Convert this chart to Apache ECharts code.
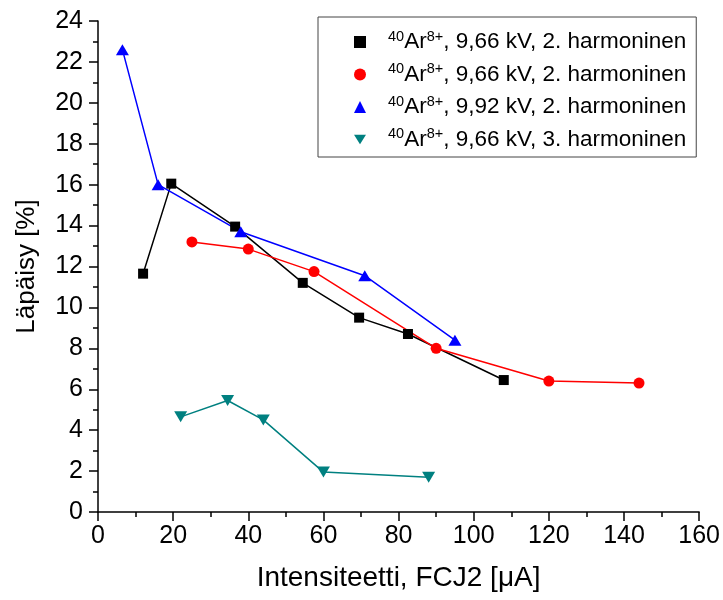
<!DOCTYPE html>
<html style="height: 100%">

<head>
    <meta charset="utf-8">
</head>

<body style="height: 100%; margin: 0; background: #fff">
    <div id="container" style="width: 723px; height: 600px"></div>
    <script type="text/javascript" src="https://cdn.jsdelivr.net/npm/echarts@6/dist/echarts.min.js"></script>
    <script type="text/javascript">
        // mittaukset: intensiteetti (uA) ja läpäisy (%)
        var blackX = [12, 19.5, 36.5, 54.5, 69.5, 82.5, 108];
        var blackY = [11.65, 16.05, 13.95, 11.2, 9.5, 8.7, 6.45];
        var redX = [25, 40, 57.5, 90, 120, 144];
        var redY = [13.2, 12.85, 11.75, 8.0, 6.4, 6.3];
        var blueX = [6.5, 16, 38, 71, 95];
        var blueY = [22.6, 16.0, 13.7, 11.55, 8.4];
        var tealX = [22, 34.5, 44, 60, 88];
        var tealY = [4.65, 5.45, 4.5, 1.95, 1.7];

        var legendTexts = {
            s1: ', 9,66 kV, 2. harmoninen',
            s2: ', 9,66 kV, 2. harmoninen',
            s3: ', 9,92 kV, 2. harmoninen',
            s4: ', 9,66 kV, 3. harmoninen'
        };

        function pairs(xs, ys) {
            return xs.map(function (x, i) { return [x, ys[i]]; });
        }

        var fontFam = '"Liberation Sans", Arial, sans-serif';

        var dom = document.getElementById("container");
        var myChart = echarts.init(dom);

        var option = {
            backgroundColor: '#fff',
            animation: false,
            textStyle: { fontFamily: fontFam, color: '#000' },
            grid: { left: 98, right: 22, top: 21, bottom: 88 },
            legend: {
                orient: 'vertical',
                left: 318,
                top: 17,
                padding: [12, 10, 6, 36],
                itemGap: 8,
                itemWidth: 12,
                itemHeight: 12,
                borderColor: '#444',
                borderWidth: 1,
                data: [
                    { name: 's1', icon: 'rect' },
                    { name: 's2', icon: 'circle' },
                    { name: 's3', icon: 'triangle' },
                    { name: 's4', icon: 'path://M0,0L2,0L1,1.6Z' }
                ],
                formatter: function (name) {
                    return '{sup|40}{main|Ar}{sup|8+}{main|' + legendTexts[name] + '}';
                },
                textStyle: {
                    padding: [0, 0, 0, 17],
                    rich: {
                        main: { fontSize: 22.5, fontFamily: fontFam, color: '#000', lineHeight: 26 },
                        sup: { fontSize: 14.5, fontFamily: fontFam, color: '#000', verticalAlign: 'top', lineHeight: 26, padding: [0, 0, 8, 0] }
                    }
                }
            },
            xAxis: {
                type: 'value',
                min: 0,
                max: 160,
                interval: 20,
                name: 'Intensiteetti, FCJ2 [μA]',
                nameLocation: 'middle',
                nameGap: 52,
                nameTextStyle: { fontSize: 28, color: '#000' },
                axisLine: { lineStyle: { color: '#000', width: 1.5 } },
                axisTick: { length: 9, lineStyle: { color: '#000', width: 1.5 } },
                minorTick: { show: true, splitNumber: 2, length: 5, lineStyle: { color: '#000', width: 1.5 } },
                axisLabel: { fontSize: 25, color: '#000', margin: 12 },
                splitLine: { show: false }
            },
            yAxis: {
                type: 'value',
                min: 0,
                max: 24,
                interval: 2,
                name: 'Läpäisy [%]',
                nameLocation: 'middle',
                nameGap: 58,
                nameTextStyle: { fontSize: 26, color: '#000' },
                axisLine: { show: true, lineStyle: { color: '#000', width: 1.5 } },
                axisTick: { show: true, length: 9, lineStyle: { color: '#000', width: 1.5 } },
                minorTick: { show: true, splitNumber: 2, length: 5, lineStyle: { color: '#000', width: 1.5 } },
                axisLabel: { fontSize: 25, color: '#000', margin: 15 },
                splitLine: { show: false }
            },
            series: [
                {
                    name: 's1',
                    type: 'line',
                    data: pairs(blackX, blackY),
                    symbol: 'rect',
                    symbolSize: 10,
                    itemStyle: { color: '#000' },
                    lineStyle: { color: '#000', width: 1.5 }
                },
                {
                    name: 's2',
                    type: 'line',
                    data: pairs(redX, redY),
                    symbol: 'circle',
                    symbolSize: 11,
                    itemStyle: { color: '#ff0000' },
                    lineStyle: { color: '#ff0000', width: 1.5 }
                },
                {
                    name: 's3',
                    type: 'line',
                    data: pairs(blueX, blueY),
                    symbol: 'triangle',
                    symbolSize: [13, 11],
                    itemStyle: { color: '#0000ff' },
                    lineStyle: { color: '#0000ff', width: 1.5 }
                },
                {
                    name: 's4',
                    type: 'line',
                    data: pairs(tealX, tealY),
                    symbol: 'triangle',
                    symbolRotate: 180,
                    symbolSize: [13, 11],
                    itemStyle: { color: '#008080' },
                    lineStyle: { color: '#008080', width: 1.5 }
                }
            ]
        };

        myChart.setOption(option, true);
    </script>
</body>

</html>
